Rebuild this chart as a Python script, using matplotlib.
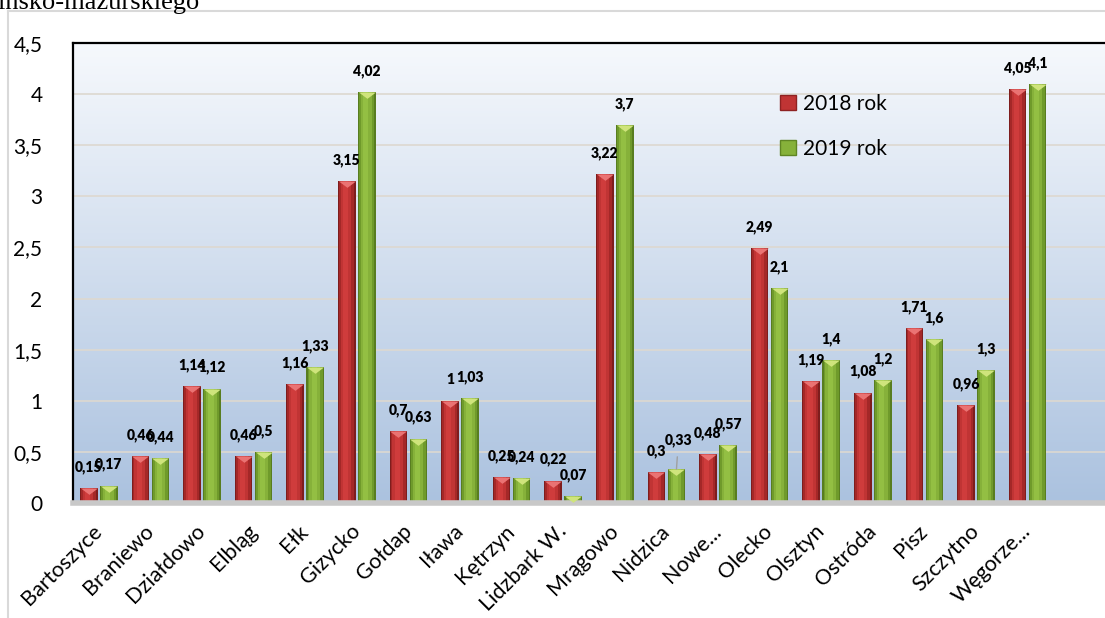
import numpy as np
import matplotlib.pyplot as plt
from matplotlib.patches import Patch

plt.rcParams['font.family'] = ['Lato', 'DejaVu Sans']

# categories and values
miasta = ['Bartoszyce', 'Braniewo', 'Działdowo', 'Elbląg', 'Ełk', 'Gizycko',
          'Gołdap', 'Iława', 'Kętrzyn', 'Lidzbark W.', 'Mrągowo', 'Nidzica',
          'Nowe...', 'Olecko', 'Olsztyn', 'Ostróda', 'Pisz', 'Szczytno',
          'Węgorze...']
rok2018 = [0.15, 0.46, 1.14, 0.46, 1.16, 3.15, 0.7, 1.0, 0.25, 0.22, 3.22,
           0.3, 0.48, 2.49, 1.19, 1.08, 1.71, 0.96, 4.05]
rok2019 = [0.17, 0.44, 1.12, 0.5, 1.33, 4.02, 0.63, 1.03, 0.24, 0.07, 3.7,
           0.33, 0.57, 2.1, 1.4, 1.2, 1.6, 1.3, 4.1]
yticks = [0, 0.5, 1, 1.5, 2, 2.5, 3, 3.5, 4, 4.5]

W, H = 1105, 618
fig = plt.figure(figsize=(W / 100, H / 100), dpi=100)

# outer chart frame (light grey)
frame = fig.add_axes([8 / W, -0.05, 1.2, 1 - 11 / H + 0.05])
frame.set_xticks([])
frame.set_yticks([])
frame.patch.set_alpha(0)
for s in frame.spines.values():
    s.set_color('#d9d9d9')
    s.set_linewidth(1.5)

# cut-off text above the chart
fig.text(200 / W, 1 - 9 / H, 'warmińsko-mazurskiego', ha='right',
         va='baseline', fontsize=19, family='Liberation Serif')

ax = fig.add_axes([73 / W, 1 - 503 / H, 1032 / W, 460 / H])
ax.set_xlim(-0.5, 19.5)
ax.set_ylim(0, 4.5)

# gradient background of the plot area
grad = np.linspace(0, 1, 256).reshape(-1, 1)
top = np.array([0.965, 0.975, 0.99])
bot = np.array([0.67, 0.76, 0.875])
img = top + (bot - top) * grad[:, :, None] * np.ones((1, 2, 3))
ax.imshow(img, extent=[0, 1, 0, 1], transform=ax.transAxes, aspect='auto',
          zorder=0)

for t in yticks[1:]:
    ax.axhline(t, color='#ddd8d0', lw=1.2, zorder=1)

x = np.arange(len(miasta))
w = 0.34
off = 0.195

red_cols = ['#7e1d1d', '#a42828', '#c03434', '#cf3c3c']
green_cols = ['#587d20', '#6f9a2b', '#86b13a', '#93bf43']
fac = [1.0, 0.86, 0.6, 0.3]


def shaded_bars(xs, vals, cols, chevron):
    for i, (c, f) in enumerate(zip(cols, fac)):
        ax.bar(xs - 0.03 * (1 - f), vals, w * f, color=c, lw=0, zorder=2 + i * 0.1)
    ax.plot(xs, vals, ls='none', marker=[(-1, 0), (1, 0), (0, -0.75)],
            ms=12.2, mfc=chevron, mec='none', zorder=3)


shaded_bars(x - off, np.array(rok2018), red_cols, '#ea7373')
shaded_bars(x + off, np.array(rok2019), green_cols, '#cfe47c')


def fmt(v):
    return ('%g' % v).replace('.', ',')


lab = dict(textcoords='offset pixels', ha='center', va='center',
           fontsize=10, fontweight='heavy', zorder=5)
for i in range(len(miasta)):
    ax.annotate(fmt(rok2018[i]), (x[i] - off, rok2018[i]), xytext=(0, 21), **lab)
    if miasta[i] == 'Nidzica':
        ax.annotate(fmt(rok2019[i]), (x[i] + off, rok2019[i]), xytext=(2, 29),
                    arrowprops=dict(arrowstyle='-', color='#a0a0a0', lw=1,
                                    shrinkA=5, shrinkB=0), **lab)
    else:
        ax.annotate(fmt(rok2019[i]), (x[i] + off, rok2019[i]), xytext=(0, 21), **lab)

ax.set_yticks(yticks)
ax.set_yticklabels([fmt(t) for t in yticks], fontsize=15)
ax.tick_params(axis='y', length=0, pad=22)
ax.set_xticks(x)
ax.set_xticklabels(miasta, fontsize=15.5, rotation=45, ha='right',
                   rotation_mode='anchor', va='center')
ax.tick_params(axis='x', length=0, pad=18)

ax.spines['right'].set_visible(False)
ax.spines['top'].set_color('black')
ax.spines['top'].set_linewidth(1.6)
ax.spines['left'].set_color('black')
ax.spines['left'].set_linewidth(1.6)
ax.spines['bottom'].set_color('#c8c8c8')
ax.spines['bottom'].set_linewidth(4)

handles = [Patch(facecolor='#c03434', edgecolor='#8e2222', label='2018 rok'),
           Patch(facecolor='#86b13a', edgecolor='#5f8524', label='2019 rok')]
ax.legend(handles=handles, loc='upper left', bbox_to_anchor=(0.667, 0.93),
          frameon=False, fontsize=15, handlelength=0.75, handleheight=0.75,
          handletextpad=0.35, labelspacing=1.2)

fig.savefig('out.png', dpi=100)
